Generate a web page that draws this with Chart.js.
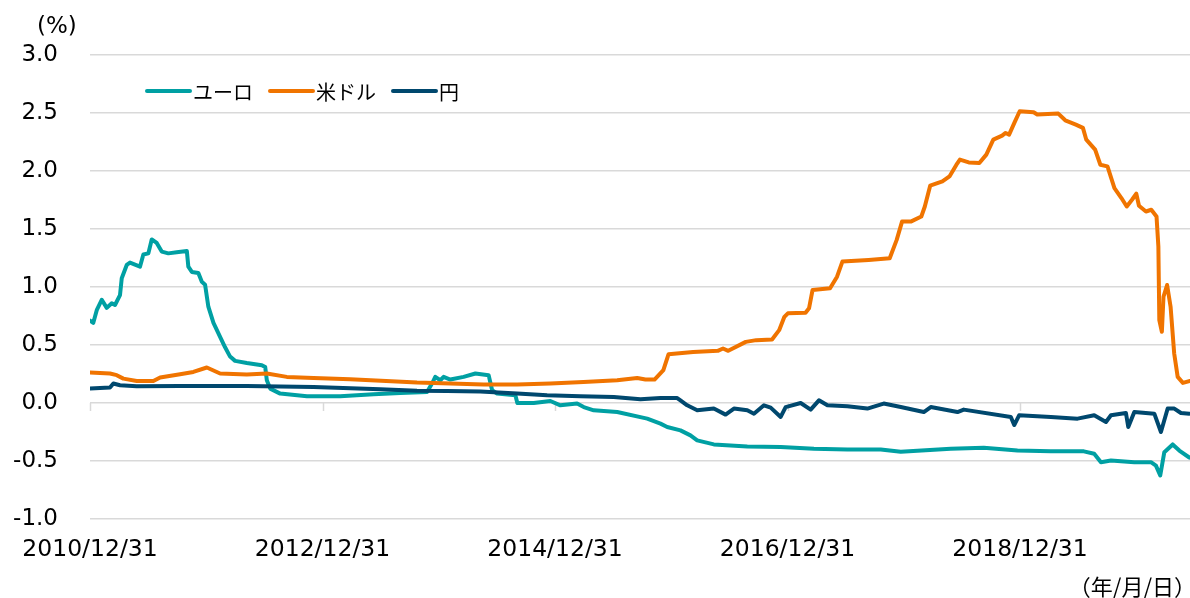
<!DOCTYPE html>
<html><head><meta charset="utf-8">
<script src="https://cdn.jsdelivr.net/npm/chart.js@4.4.1/dist/chart.umd.min.js"></script>
<style>html,body{margin:0;padding:0;background:#fff;overflow:hidden}canvas{display:block}</style>
</head><body>
<canvas id="c" width="1190" height="598"></canvas>
<script>
// Series names (legend order)
const seriesNames = ['ユーロ', '米ドル', '円'];

// x values are decimal years: 2011.0 = 2010/12/31
const xTickValues = [2011, 2013, 2015, 2017, 2019];
const xTickLabels = ['2010/12/31', '2012/12/31', '2014/12/31', '2016/12/31', '2018/12/31'];
const xMin = 2011.0;
const xMax = 2020.462;

// ユーロ (%)
const euroYears = [2011.000,2011.028,2011.058,2011.101,2011.144,2011.187,2011.215,2011.258,2011.273,2011.316,2011.344,2011.430,2011.459,2011.502,2011.531,2011.574,2011.617,2011.674,2011.746,2011.833,2011.846,2011.876,2011.932,2011.962,2011.990,2012.018,2012.062,2012.119,2012.162,2012.205,2012.248,2012.349,2012.478,2012.507,2012.521,2012.550,2012.636,2012.866,2013.152,2013.439,2013.669,2013.899,2013.942,2013.970,2014.013,2014.042,2014.099,2014.214,2014.315,2014.429,2014.459,2014.502,2014.659,2014.676,2014.817,2014.960,2015.046,2015.190,2015.247,2015.333,2015.535,2015.793,2015.907,2015.965,2016.079,2016.165,2016.223,2016.366,2016.654,2016.941,2017.227,2017.515,2017.802,2017.974,2018.404,2018.688,2018.978,2019.265,2019.549,2019.638,2019.696,2019.782,2019.983,2020.126,2020.169,2020.206,2020.241,2020.313,2020.370,2020.456];
const euroRates = [0.71,0.69,0.80,0.89,0.82,0.86,0.845,0.93,1.075,1.19,1.21,1.175,1.28,1.29,1.41,1.38,1.305,1.29,1.30,1.31,1.175,1.13,1.12,1.045,1.02,0.83,0.69,0.57,0.48,0.40,0.363,0.345,0.326,0.31,0.196,0.124,0.081,0.058,0.058,0.075,0.086,0.095,0.168,0.225,0.196,0.225,0.202,0.225,0.254,0.24,0.11,0.081,0.066,0.0,0.0,0.017,-0.02,-0.005,-0.035,-0.063,-0.078,-0.135,-0.178,-0.207,-0.236,-0.279,-0.322,-0.357,-0.374,-0.38,-0.394,-0.40,-0.40,-0.42,-0.394,-0.386,-0.41,-0.417,-0.417,-0.437,-0.51,-0.495,-0.51,-0.51,-0.54,-0.625,-0.424,-0.357,-0.41,-0.47];

// 米ドル (%)
const usdYears = [2011.000,2011.172,2011.230,2011.287,2011.402,2011.545,2011.603,2011.775,2011.889,2012.005,2012.119,2012.349,2012.521,2012.693,2012.923,2013.238,2013.813,2014.099,2014.386,2014.674,2014.960,2015.245,2015.535,2015.707,2015.778,2015.856,2015.932,2015.976,2016.188,2016.400,2016.445,2016.490,2016.641,2016.731,2016.867,2016.928,2016.973,2017.003,2017.155,2017.185,2017.215,2017.366,2017.426,2017.472,2017.698,2017.879,2017.939,2017.985,2018.060,2018.151,2018.181,2018.227,2018.332,2018.393,2018.453,2018.483,2018.559,2018.650,2018.710,2018.770,2018.846,2018.876,2018.906,2018.951,2018.997,2019.117,2019.148,2019.329,2019.389,2019.480,2019.541,2019.570,2019.646,2019.691,2019.752,2019.812,2019.872,2019.918,2019.963,2020.000,2020.023,2020.083,2020.129,2020.174,2020.190,2020.198,2020.220,2020.234,2020.265,2020.295,2020.326,2020.356,2020.401,2020.462];
const usdRates = [0.263,0.254,0.24,0.21,0.19,0.19,0.22,0.248,0.268,0.306,0.254,0.245,0.254,0.225,0.216,0.205,0.176,0.168,0.159,0.159,0.168,0.181,0.196,0.216,0.202,0.202,0.283,0.42,0.44,0.45,0.47,0.45,0.527,0.542,0.548,0.628,0.743,0.773,0.778,0.816,0.974,0.989,1.089,1.219,1.233,1.248,1.406,1.564,1.564,1.608,1.694,1.873,1.91,1.953,2.054,2.098,2.074,2.069,2.141,2.27,2.305,2.328,2.314,2.415,2.515,2.506,2.487,2.495,2.437,2.40,2.372,2.27,2.184,2.054,2.04,1.853,1.767,1.694,1.752,1.804,1.70,1.651,1.666,1.608,1.348,0.715,0.614,0.916,1.017,0.83,0.427,0.225,0.173,0.19];

// 円 (%)
const yenYears = [2011.000,2011.172,2011.201,2011.258,2011.402,2011.775,2012.349,2012.923,2013.497,2013.813,2014.071,2014.358,2014.674,2014.932,2015.219,2015.505,2015.735,2015.907,2016.051,2016.079,2016.137,2016.223,2016.366,2016.467,2016.539,2016.654,2016.711,2016.797,2016.855,2016.941,2016.984,2017.113,2017.199,2017.270,2017.343,2017.515,2017.687,2017.827,2017.974,2018.172,2018.232,2018.462,2018.516,2018.921,2018.950,2018.992,2019.265,2019.495,2019.638,2019.739,2019.782,2019.911,2019.931,2019.983,2020.155,2020.212,2020.270,2020.327,2020.384,2020.456];
const yenRates = [0.124,0.133,0.168,0.153,0.144,0.147,0.147,0.138,0.118,0.106,0.104,0.10,0.081,0.067,0.058,0.052,0.032,0.043,0.043,0.023,-0.02,-0.063,-0.048,-0.10,-0.048,-0.063,-0.092,-0.02,-0.04,-0.12,-0.035,0.0,-0.057,0.023,-0.02,-0.028,-0.048,-0.005,-0.035,-0.078,-0.035,-0.078,-0.057,-0.12,-0.19,-0.106,-0.12,-0.135,-0.106,-0.164,-0.106,-0.086,-0.207,-0.078,-0.092,-0.25,-0.048,-0.048,-0.086,-0.092];

const seriesColors = ['#00a0a3', '#f07400', '#00486e'];
const GRID = '#d9d9d9';

const toPts = (xs, ys) => xs.map((x, i) => ({ x: x, y: ys[i] }));

const decor = {
  id: 'decor',
  beforeDatasetsDraw(chart) {
    const ctx = chart.ctx, x = chart.scales.x, y = chart.scales.y;
    const y0 = y.getPixelForValue(0);
    ctx.save();
    ctx.strokeStyle = GRID;
    ctx.lineWidth = 1.5;
    xTickValues.forEach(v => {
      const px = Math.round(x.getPixelForValue(v)) + 0.5;
      ctx.beginPath();
      ctx.moveTo(px, y0);
      ctx.lineTo(px, y0 + 8);
      ctx.stroke();
    });
    ctx.restore();
  },
  afterDraw(chart) {
    const ctx = chart.ctx;
    ctx.save();
    // unit labels
    ctx.fillStyle = '#000';
    ctx.textBaseline = 'middle';
    ctx.textAlign = 'left';
    ctx.font = '23px "DejaVu Sans"';
    ctx.fillText('(%)', 37, 27);
    ctx.font = '22px "Noto Sans CJK JP"';
    ctx.textAlign = 'right';
    ctx.fillText('（年/月/日）', 1196, 587);
    // legend
    let lx = 147;
    const ly = 91;
    ctx.textAlign = 'left';
    ctx.font = '20px "Noto Sans CJK JP"';
    chart.data.datasets.forEach(ds => {
      ctx.strokeStyle = ds.borderColor;
      ctx.lineWidth = 4;
      ctx.lineCap = 'round';
      ctx.beginPath();
      ctx.moveTo(lx, ly);
      ctx.lineTo(lx + 43, ly);
      ctx.stroke();
      ctx.fillStyle = '#000';
      ctx.fillText(ds.label, lx + 46, ly + 1);
      lx += 46 + ctx.measureText(ds.label).width + 17;
    });
    ctx.restore();
  }
};

new Chart(document.getElementById('c'), {
  type: 'line',
  data: {
    datasets: [
      { label: seriesNames[0], data: toPts(euroYears, euroRates), borderColor: seriesColors[0], order: 3 },
      { label: seriesNames[1], data: toPts(usdYears, usdRates), borderColor: seriesColors[1], order: 2 },
      { label: seriesNames[2], data: toPts(yenYears, yenRates), borderColor: seriesColors[2], order: 1 }
    ]
  },
  options: {
    responsive: false,
    animation: false,
    devicePixelRatio: 1,
    elements: {
      point: { radius: 0 },
      line: { borderWidth: 4, tension: 0, borderJoinStyle: 'round', borderCapStyle: 'round', fill: false }
    },
    layout: { padding: { top: 55, left: 0, right: 0, bottom: 0 } },
    plugins: { legend: { display: false }, tooltip: { enabled: false } },
    scales: {
      x: {
        type: 'linear', min: xMin, max: xMax,
        afterBuildTicks: s => { s.ticks = xTickValues.map(v => ({ value: v })); },
        ticks: {
          autoSkip: false, maxRotation: 0, minRotation: 0,
          font: { family: 'DejaVu Sans', size: 23.5 }, color: '#000', padding: 17,
          callback: v => { const i = xTickValues.indexOf(v); return i >= 0 ? xTickLabels[i] : ''; }
        },
        grid: { display: false, drawTicks: false },
        border: { display: false },
        afterFit: s => { s.height = 79; }
      },
      y: {
        min: -1, max: 3,
        ticks: {
          stepSize: 0.5,
          callback: v => Number(v).toFixed(1),
          font: { family: 'DejaVu Sans', size: 23 }, color: '#000', padding: 32
        },
        grid: { color: GRID, lineWidth: 1.5, drawTicks: false },
        border: { display: false },
        afterFit: s => { s.width = 90; }
      }
    }
  },
  plugins: [decor]
});
</script>
</body></html>
